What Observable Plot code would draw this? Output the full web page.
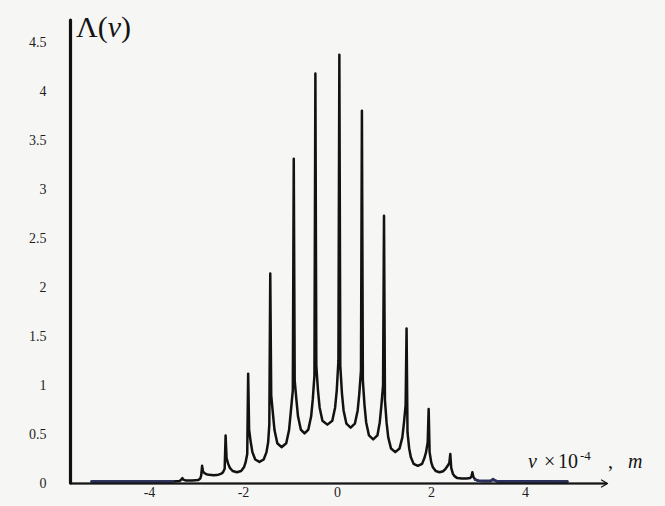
<!DOCTYPE html>
<html><head><meta charset="utf-8">
<script src="https://cdn.jsdelivr.net/npm/d3@7"></script>
<script src="https://cdn.jsdelivr.net/npm/@observablehq/plot@0.6"></script>
<style>
html,body{margin:0;padding:0;background:#f6f6f4;}
#chart{width:665px;height:506px;}
</style></head><body><div id="chart"></div>
<script>
// Curve points (x in units of 10^-4 m, y = Λ(ν))
const curveX = [
  -5.23, -3.50, -3.36, -3.32, -3.30, -3.28, -3.22, -3.09, -2.96, -2.92, -2.90, -2.88,
  -2.86, -2.825, -2.79, -2.73, -2.63, -2.53, -2.47, -2.435, -2.40, -2.38,
  -2.36, -2.325, -2.29, -2.23, -2.14, -2.05, -1.99, -1.955, -1.92, -1.90,
  -1.88, -1.845, -1.81, -1.75, -1.66, -1.57, -1.51, -1.475, -1.45, -1.43,
  -1.41, -1.375, -1.34, -1.28, -1.19, -1.09, -1.03, -0.995, -0.95, -0.93,
  -0.91, -0.875, -0.84, -0.78, -0.70, -0.62, -0.56, -0.525, -0.49, -0.47,
  -0.45, -0.415, -0.38, -0.32, -0.215, -0.11, -0.05, -0.015, 0.02, 0.04,
  0.06, 0.095, 0.13, 0.19, 0.28, 0.37, 0.43, 0.465, 0.50, 0.52,
  0.54, 0.575, 0.61, 0.67, 0.76, 0.85, 0.90, 0.935, 0.97, 0.99,
  1.01, 1.045, 1.08, 1.14, 1.23, 1.32, 1.38, 1.415, 1.45, 1.47,
  1.49, 1.525, 1.56, 1.62, 1.71, 1.80, 1.85, 1.885, 1.92, 1.94,
  1.96, 1.995, 2.03, 2.09, 2.17, 2.25, 2.30, 2.345, 2.38, 2.40,
  2.42, 2.455, 2.49, 2.55, 2.64, 2.75, 2.82, 2.85, 2.87,
  2.89, 2.93, 3.00, 3.09, 3.25, 3.29, 3.31, 3.33, 3.40, 4.89
];
const curveY = [
  0.02, 0.02, 0.025, 0.04, 0.055, 0.04, 0.03, 0.03, 0.035, 0.05, 0.08, 0.18,
  0.12, 0.105, 0.095, 0.088, 0.085, 0.09, 0.10, 0.115, 0.15, 0.49,
  0.26, 0.20, 0.16, 0.127, 0.115, 0.127, 0.165, 0.215, 0.30, 1.12,
  0.55, 0.42, 0.32, 0.245, 0.22, 0.245, 0.32, 0.42, 0.60, 2.14,
  0.90, 0.72, 0.545, 0.41, 0.37, 0.41, 0.545, 0.72, 0.95, 3.31,
  1.05, 0.86, 0.685, 0.55, 0.51, 0.55, 0.685, 0.86, 1.10, 4.18,
  1.20, 0.95, 0.775, 0.64, 0.60, 0.64, 0.775, 0.95, 1.25, 4.37,
  1.20, 0.92, 0.745, 0.61, 0.57, 0.61, 0.745, 0.92, 1.15, 3.80,
  1.05, 0.80, 0.625, 0.49, 0.45, 0.49, 0.625, 0.80, 1.00, 2.73,
  0.85, 0.62, 0.47, 0.356, 0.32, 0.356, 0.47, 0.62, 0.80, 1.58,
  0.52, 0.36, 0.27, 0.20, 0.18, 0.20, 0.26, 0.32, 0.42, 0.76,
  0.32, 0.215, 0.165, 0.127, 0.115, 0.125, 0.15, 0.18, 0.21, 0.30,
  0.16, 0.10, 0.075, 0.055, 0.05, 0.05, 0.055, 0.07, 0.115,
  0.07, 0.04, 0.028, 0.025, 0.025, 0.035, 0.045, 0.035, 0.022, 0.02
];
const xTicks = [-4, -2, 0, 2, 4];
const yTicks = [0, 0.5, 1, 1.5, 2, 2.5, 3, 3.5, 4, 4.5];
const xDomain = [-5.68, 5.745];
const yDomain = [0, 4.72];

const data = curveX.map((x, i) => ({x, y: curveY[i], side: x < 0 ? "L" : "R"}));
const tails = data.filter(d => d.x < -3.4 || d.x > 2.92);

const plot = Plot.plot({
  width: 665, height: 506,
  marginLeft: 70, marginRight: 58, marginTop: 20, marginBottom: 23,
  style: {background: "transparent", fontFamily: "'Liberation Serif', 'DejaVu Serif', serif", fontSize: "14px", color: "#1e1e1e"},
  x: {domain: xDomain, ticks: xTicks, tickSize: 0, tickPadding: 4, label: null,
      tickFormat: d => d < 0 ? "-" + (-d) : String(d)},
  y: {domain: yDomain, ticks: yTicks, tickSize: 0, tickPadding: 24, label: null,
      tickFormat: d => String(d)},
  marks: [
    Plot.line(data, {x: "x", y: "y", stroke: "#121212", strokeWidth: 2.5}),
    Plot.line(tails, {x: "x", y: "y", z: "side", stroke: "#2b3060", strokeWidth: 2.6}),
    Plot.ruleY([yDomain[0]], {stroke: "#151515", strokeWidth: 2}),
    Plot.arrow([{x1: xDomain[0], x2: xDomain[1], y1: yDomain[0], y2: yDomain[0]}],
      {x1: "x1", y1: "y1", x2: "x2", y2: "y2", stroke: "#151515", strokeWidth: 1.3, headLength: 8}),
    Plot.ruleX([xDomain[0]], {stroke: "#111", strokeWidth: 3.2, strokeLinecap: "round"})
  ]
});
document.getElementById("chart").appendChild(plot);

const svg = d3.select(plot);
const serif = "'Liberation Serif', 'DejaVu Serif', serif";
// y label Λ(ν)
const yl = svg.append("text").attr("x", 76).attr("y", 37).attr("text-anchor", "start")
  .attr("font-family", serif).attr("font-size", 30).attr("fill", "#141414");
yl.append("tspan").text("Λ(");
yl.append("tspan").attr("font-style", "italic").text("ν");
yl.append("tspan").text(")");
// x label ν ×10^-4, m
const xl = svg.append("text").attr("y", 468).attr("text-anchor", "start")
  .attr("font-family", serif).attr("font-size", 20).attr("fill", "#141414");
xl.append("tspan").attr("x", 528).attr("font-style", "italic").text("ν");
xl.append("tspan").attr("x", 544).text("×");
xl.append("tspan").attr("x", 558).text("10");
xl.append("tspan").attr("x", 580).attr("y", 460).attr("font-size", 13).text("-4");
xl.append("tspan").attr("x", 608).attr("y", 468).text(",");
xl.append("tspan").attr("x", 628).attr("font-style", "italic").text("m");
</script>
</body></html>
